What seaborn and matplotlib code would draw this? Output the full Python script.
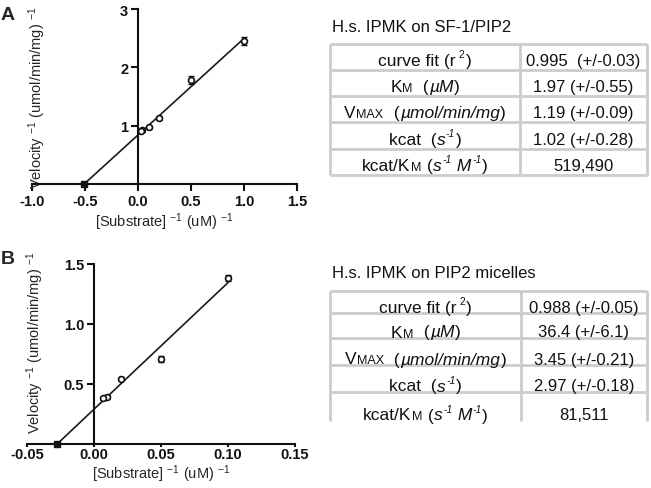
import numpy as np
import matplotlib
matplotlib.use("Agg")
import matplotlib.pyplot as plt
import seaborn as sns

# ============ DATA ============
# Panel A : H.s. IPMK on SF-1/PIP2 (double reciprocal)
inv_s_A = [1.0, 0.5, 0.2, 0.1, 0.04, 0.025]
inv_v_A = [2.45, 1.78, 1.13, 0.97, 0.92, 0.91]
err_A = [0.07, 0.07, 0.03, 0.02, 0.02, 0.02]
km_A, vmax_A = 1.97, 1.19

# Panel B : H.s. IPMK on PIP2 micelles
inv_s_B = [0.1, 0.05, 0.02, 0.01, 0.0067]
inv_v_B = [1.38, 0.71, 0.545, 0.395, 0.38]
err_B = [0.025, 0.025, 0.015, 0.01, 0.01]
km_B, vmax_B = 36.4, 3.45

title_A = "H.s. IPMK on SF-1/PIP2"
title_B = "H.s. IPMK on PIP2 micelles"
values_A = ["0.995  (+/-0.03)", "1.97 (+/-0.55)", "1.19 (+/-0.09)", "1.02 (+/-0.28)", "519,490"]
values_B = ["0.988 (+/-0.05)", "36.4 (+/-6.1)", "3.45 (+/-0.21)", "2.97 (+/-0.18)", "81,511"]

# row labels as (text, size, italic, rise in pt)
BIG, SMALL, SUP = 12.5, 9, 7.5
row_labels = [
    [("curve fit (r", BIG, False, 0), (" 2", SUP, False, 5.5), (")", BIG, False, 0)],
    [("K", BIG, False, 0), ("M", SMALL, False, 0), ("  (", BIG, False, 0),
     ("\u00b5M", BIG, True, 0), (")", BIG, False, 0)],
    [("V", BIG, False, 0), ("MAX", SMALL, False, 0), ("  (", BIG, False, 0),
     ("\u00b5mol/min/mg", BIG, True, 0), (")", BIG, False, 0)],
    [("kcat  (", BIG, False, 0), ("s", BIG, True, 0), ("-1", SUP, True, 5.5), (")", BIG, False, 0)],
    [("kcat/K", BIG, False, 0), ("M", SMALL, False, 0), (" (", BIG, False, 0), ("s", BIG, True, 0),
     ("-1", SUP, True, 5.5), (" M", BIG, True, 0), ("-1", SUP, True, 5.5), (")", BIG, False, 0)],
]

sns.set_theme(style="ticks")
plt.rcParams["font.family"] = ["Liberation Sans", "DejaVu Sans"]
plt.rcParams["mathtext.fontset"] = "custom"
plt.rcParams["mathtext.rm"] = "Liberation Sans"
plt.rcParams["mathtext.it"] = "Liberation Sans:italic"

W, H = 651, 489
fig = plt.figure(figsize=(W / 100, H / 100), dpi=100)


def px_axes(left, top, right, bottom):
    return fig.add_axes([left / W, 1 - bottom / H, (right - left) / W, (bottom - top) / H])


def lb_panel(ax, x, y, err, km, vmax, xlim, ylim, xticks, yticks, xfmt, yfmt, tlen, tpad):
    fit_x = np.array([-1.0 / km, max(x)])
    fit_y = fit_x * km / vmax + 1.0 / vmax
    sns.lineplot(x=fit_x, y=fit_y, ax=ax, color="#1a1a1a", lw=1.2)
    ax.errorbar(x, y, yerr=err, fmt="none", ecolor="#111111", elinewidth=1.0, capsize=2.5, capthick=1.0)
    sns.scatterplot(x=x, y=y, ax=ax, marker="o", s=18, color="white",
                    edgecolor="#111111", linewidth=1.2, zorder=3)
    ax.plot([-1.0 / km], [0], "s", color="#111111", ms=4, clip_on=False, zorder=4)
    ax.set_xlim(*xlim)
    ax.set_ylim(*ylim)
    ax.set_xticks(xticks)
    ax.set_yticks(yticks)
    ax.set_xticklabels([xfmt.format(v) for v in xticks])
    ax.set_yticklabels([yfmt.format(v) for v in yticks])
    sns.despine(ax=ax)
    ax.spines["left"].set_position(("data", 0))
    ax.spines["bottom"].set_position(("data", 0))
    for s in ("left", "bottom"):
        ax.spines[s].set_linewidth(1.5)
        ax.spines[s].set_color("#111111")
    ax.tick_params(direction="out", length=5, width=1.5, colors="#111111",
                   labelsize=10.5, pad=2)
    ax.tick_params(axis="x", length=tlen, pad=tpad)
    for lab in ax.get_xticklabels() + ax.get_yticklabels():
        lab.set_fontweight("bold")
    ax.set_xlabel("[Substrate] $^{-1}$ (uM) $^{-1}$", fontsize=10.5, labelpad=2)
    ax.set_ylabel("Velocity $^{-1}$ (umol/min/mg) $^{-1}$", fontsize=10.5)


axA = px_axes(32, 10, 297, 185)
lb_panel(axA, inv_s_A, inv_v_A, err_A, km_A, vmax_A, (-1.0, 1.5), (0, 3),
         [-1.0, -0.5, 0.0, 0.5, 1.0, 1.5], [1, 2, 3], "{:.1f}", "{:.0f}", 5, 2)
axA.yaxis.set_label_coords(0.06, 0.5)

axB = px_axes(27, 265, 295, 445)
lb_panel(axB, inv_s_B, inv_v_B, err_B, km_B, vmax_B, (-0.05, 0.15), (0, 1.5),
         [-0.05, 0.0, 0.05, 0.10, 0.15], [0.5, 1.0, 1.5], "{:.2f}", "{:.1f}", 2, 0.5)
axB.xaxis.labelpad = 1
axB.yaxis.set_label_coords(0.072, 0.565)

fig.text(1 / W, 1 - 15 / H, "A", fontsize=14, fontweight="bold", va="center")
fig.text(1 / W, 1 - 260 / H, "B", fontsize=14, fontweight="bold", va="center")

# ============ Tables ============
tax = fig.add_axes([0, 0, 1, 1])
tax.set_xlim(0, W)
tax.set_ylim(H, 0)
tax.axis("off")
grid_col = "#cccccc"


def rich(ybase, pieces):
    arts = []
    for txt, size, ital, rise in pieces:
        t = tax.text(0, ybase - rise * 100 / 72, txt, fontsize=size,
                     style="italic" if ital else "normal", ha="left", va="baseline",
                     color="#111111")
        arts.append(t)
    return arts


def table(title, title_y, rows, left, mid, right, base_off, values, bottom_line):
    tax.text(left + 2, title_y, title, fontsize=12, va="baseline", color="#111111")
    for y in (rows if bottom_line else rows[:-1]):
        tax.hlines(y, left, right, color=grid_col, lw=2)
    for x in (left, mid, right):
        tax.vlines(x, rows[0], rows[-1], color=grid_col, lw=2)
    groups = []
    for i in range(5):
        yb = rows[i + 1] - base_off
        groups.append((rich(yb, row_labels[i]), (left + mid) / 2))
        tax.text((mid + right) / 2, yb, values[i], fontsize=12, ha="center",
                 va="baseline", color="#111111")
    return groups


all_groups = table(title_A, 32, [45, 71, 97, 123, 150, 176], 330, 520, 647, 5, values_A, True)
all_groups += table(title_B, 278, [292, 314, 339, 366, 393, 422], 330, 521, 647, 1.5, values_B, False)

# centre each label made of pieces in its cell
fig.canvas.draw()
r = fig.canvas.get_renderer()
for arts, cx in all_groups:
    widths = [a.get_window_extent(r).width for a in arts]
    gap = 0.5
    total = sum(widths) + gap * (len(widths) - 1)
    x = cx - total / 2
    for a, w in zip(arts, widths):
        a.set_x(x)
        x += w + gap

fig.savefig("out.png", dpi=100)
